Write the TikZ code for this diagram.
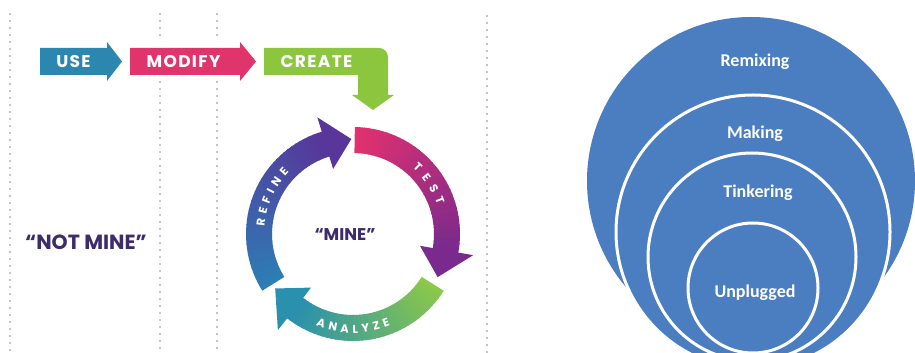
\documentclass[tikz,border=0pt]{standalone}
\usepackage{fontspec}
\newfontfamily\pop{Poppins}
\newfontfamily\popsp{Poppins}[LetterSpace=8]
\newfontfamily\calib{Carlito}
\usetikzlibrary{decorations.text}
\definecolor{useblue}{HTML}{2B87B0}
\definecolor{modpink}{HTML}{E0346C}
\definecolor{crgreen}{HTML}{8CC63F}
\definecolor{tpink}{HTML}{E2316E}
\definecolor{tpurple}{HTML}{7A2A8D}
\definecolor{agreen}{HTML}{8CC84A}
\definecolor{ateal}{HTML}{2990AE}
\definecolor{rblue}{HTML}{2C7EB5}
\definecolor{rpurple}{HTML}{58369A}
\definecolor{minepurple}{HTML}{3D2B6C}
\definecolor{circblue}{HTML}{4B7EC0}
\definecolor{dotgray}{HTML}{C4C4C4}
\newcommand\ringfont{\pop\bfseries\fontsize{11.5}{11.5}\selectfont}
\newcommand\gradarc[5]{%
  \foreach \i in {0,...,39}{%
    \pgfmathsetmacro\aa{#1+(#2-#1)*\i/40}%
    \pgfmathsetmacro\bb{#1+(#2-#1)*(\i+1)/40-0.5}%
    \pgfmathtruncatemacro\pc{100-\i*100/39}%
    \fill[#3!\pc!#4] (\aa:107) arc[start angle=\aa, end angle=\bb, radius=107]
      -- (\bb:81) arc[start angle=\bb, end angle=\aa, radius=81] -- cycle;
  }%
  \fill[#4] ({#2}:68) -- ({#2}:122) -- ({#5}:95) -- cycle;
}
\begin{document}
\begin{tikzpicture}[x=1pt,y=1pt,
  dotline/.style={draw=dotgray, line width=2pt, dash pattern=on 2pt off 5pt},
  armtext/.style={text=white, font=\popsp\bfseries\fontsize{17}{17}\selectfont, inner sep=0pt},
  minetext/.style={text=minepurple, font=\pop\bfseries\fontsize{#1}{#1}\selectfont, inner sep=0pt},
  ringtext/.style={decorate, decoration={text along path, text align={fit to path}, text color=white}},
  circ/.style={fill=circblue, draw=white, line width=3pt},
  circtext/.style={text=white, font=\calib\bfseries\fontsize{18}{18}\selectfont, inner sep=0pt}]
\useasboundingbox (0,0) rectangle (915,353);
\clip (0,0) rectangle (915,353);
% dotted guide lines
\draw[dotline] (10,340) -- (10,0);
\draw[dotline] (160,340) -- (160,312);
\draw[dotline] (160,272) -- (160,0);
\draw[dotline] (217,340) -- (217,312);
\draw[dotline] (217,272) -- (217,0);
\draw[dotline] (487,338) -- (487,0);
% USE / MODIFY / CREATE arrows
\fill[useblue] (40,305) -- (107,305) -- (107,311) -- (122,291.5) -- (107,272) -- (107,278) -- (40,278) -- cycle;
\fill[modpink] (130,305) -- (240,305) -- (240,311) -- (256,291.5) -- (240,272) -- (240,278) -- (130,278) -- cycle;
\fill[crgreen] (264,305) -- (379,305) arc[start angle=90, end angle=0, radius=9]
  -- (388,258) -- (394,258) -- (373,243) -- (352,258) -- (358,258) -- (358,278) -- (264,278) -- cycle;
\node[armtext] (use) at (73.5,291.5) {USE};
\node[armtext] (modify) at (183.5,291.5) {MODIFY};
\node[armtext] (create) at (316.5,291.5) {CREATE};
% texts
\node[minetext=20.5] (notmine) at (86,110.5) {“NOT MINE”};
\node[minetext=17] (mine) at (345,118) {“MINE”};
% cycle
\begin{scope}[shift={(353,119)}]
  \gradarc{89}{-10}{tpink}{tpurple}{-27}
  \gradarc{-32}{-128}{agreen}{ateal}{-145}
  \gradarc{212}{107}{rblue}{rpurple}{91}
  \path[ringtext, decoration={text={|\ringfont|TEST}}] (48:89) arc[start angle=48, end angle=19, radius=89];
  \path[ringtext, decoration={text={|\ringfont|ANALYZE}}] (248:99) arc[start angle=248, end angle=292, radius=99];
  \path[ringtext, decoration={text={|\ringfont|REFINE}}] (175:89) arc[start angle=175, end angle=136, radius=89];
\end{scope}
% nested circles
\fill[circblue] (751,172) circle[radius=164];
\filldraw[circ] (753,121) circle[radius=137];
\filldraw[circ] (752,96) circle[radius=104];
\filldraw[circ] (753,65) circle[radius=65];
\node[circtext] (remixing) at (755,291) {Remixing};
\node[circtext] (making) at (755,219) {Making};
\node[circtext] (tinkering) at (758,160) {Tinkering};
\node[circtext] (unplugged) at (755,60.5) {Unplugged};
\end{tikzpicture}
\end{document}
